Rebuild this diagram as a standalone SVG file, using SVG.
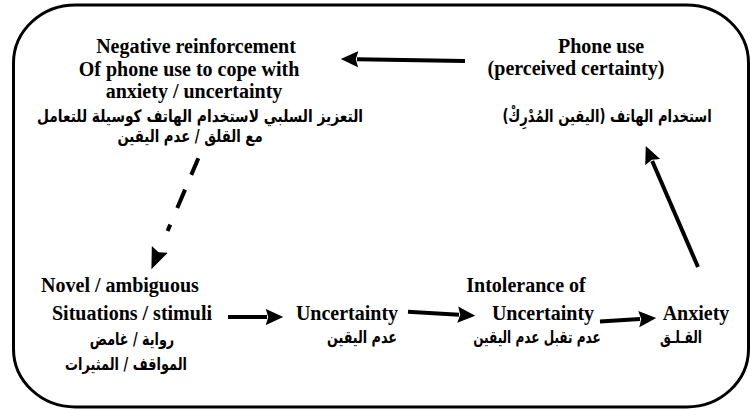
<svg xmlns="http://www.w3.org/2000/svg" width="750" height="410" viewBox="0 0 750 410">
<style>
.en{font-family:"Liberation Serif","Times New Roman",serif;font-weight:bold;font-size:20px;fill:#000;text-anchor:middle}
.ar{font-family:"DejaVu Sans",sans-serif;font-weight:bold;font-size:17px;fill:#000;text-anchor:middle}
.ln{stroke:#000;stroke-width:4;fill:none}
</style>
<defs>
<marker id="ah" markerUnits="userSpaceOnUse" markerWidth="20" markerHeight="20" viewBox="0 -8 16 16" refX="1" refY="0" orient="auto">
<path d="M0,-6.5 L14,0 L0,6.5 L2,0 z" fill="#000"/>
</marker>
<marker id="ahd" markerUnits="userSpaceOnUse" markerWidth="26" markerHeight="26" viewBox="0 -10 24 20" refX="1" refY="0" orient="auto">
<path d="M0,-8 L20,0 L0,8 L3,0 z" fill="#000"/>
</marker>
</defs>
<rect x="13.5" y="5" width="735" height="402" rx="62" ry="58" fill="#fff" stroke="#000" stroke-width="3"/>
<g id="neg">
<text class="en" x="196" y="53">Negative reinforcement</text>
<text class="en" x="189" y="76">Of phone use to cope with</text>
<text class="en" x="194" y="98">anxiety / uncertainty</text>
<text class="ar" transform="translate(200,122) scale(0.81,1)">التعزيز السلبي لاستخدام الهاتف كوسيلة للتعامل</text>
<text class="ar" transform="translate(190,142) scale(0.78,1)">مع القلق / عدم اليقين</text>
</g>
<g id="phone">
<text class="en" x="601" y="53">Phone use</text>
<text class="en" x="576" y="75">(perceived certainty)</text>
<text class="ar" transform="translate(607,122) scale(0.77,1)">استخدام الهاتف (اليقين المُدْرِكْ)</text>
</g>
<g id="novel">
<text class="en" x="120" y="292">Novel / ambiguous</text>
<text class="en" x="132" y="320">Situations / stimuli</text>
<text class="ar" transform="translate(132,345) scale(0.75,1)">رواية / غامض</text>
<text class="ar" transform="translate(126,370) scale(0.76,1)">المواقف / المثيرات</text>
</g>
<g id="uncertainty">
<text class="en" x="347" y="320">Uncertainty</text>
<text class="ar" transform="translate(362,343) scale(0.75,1)">عدم اليقين</text>
</g>
<g id="intolerance">
<text class="en" x="526" y="292">Intolerance of</text>
<text class="en" x="543" y="320">Uncertainty</text>
<text class="ar" transform="translate(537,343) scale(0.71,1)">عدم تقبل عدم اليقين</text>
</g>
<g id="anxiety">
<text class="en" x="696" y="320">Anxiety</text>
<text class="ar" transform="translate(681,343) scale(0.72,1)">القـلـق</text>
</g>
<g id="connectors">
<line class="ln" x1="465" y1="61" x2="357" y2="59.2" marker-end="url(#ah)"/>
<line class="ln" x1="228" y1="317" x2="267" y2="317" marker-end="url(#ah)"/>
<line class="ln" x1="408" y1="311.7" x2="459" y2="314.7" marker-end="url(#ah)"/>
<line class="ln" x1="600" y1="321.5" x2="640" y2="319" marker-end="url(#ah)"/>
<line class="ln" x1="698" y1="267" x2="652.2" y2="161" marker-end="url(#ah)"/>
<line class="ln" x1="198.3" y1="158.3" x2="159.4" y2="250.3" stroke-dasharray="18 16 20 18 7 100" marker-end="url(#ahd)"/>
</g>
</svg>
